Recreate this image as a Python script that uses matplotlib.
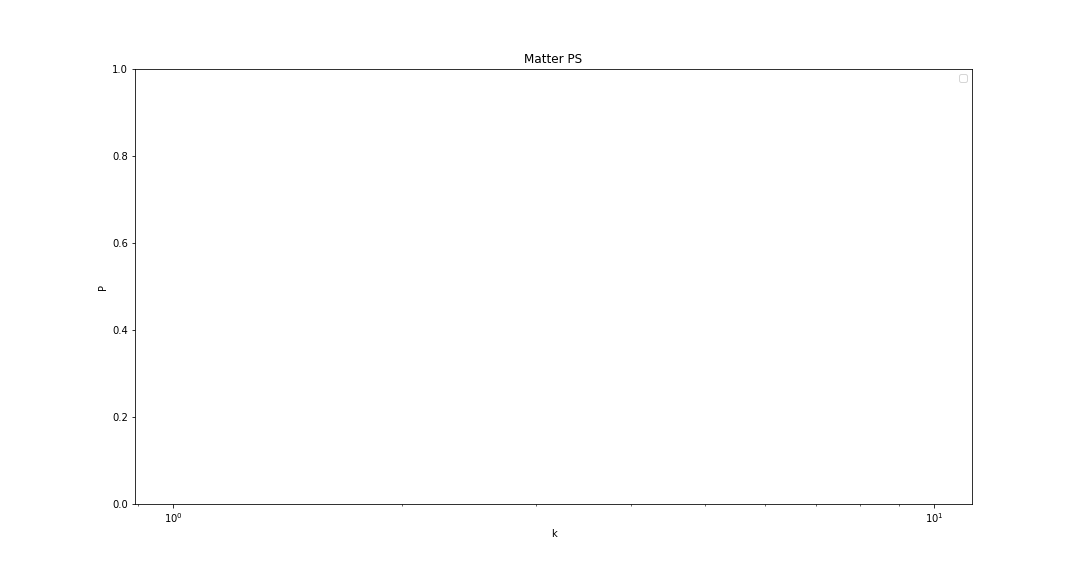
import matplotlib
matplotlib.use("Agg")
import matplotlib.pyplot as plt

# axis range of the (empty) power spectrum plot
k_range = [10 ** -0.05, 10 ** 1.05]
p_range = [0.0, 1.0]

fig, ax = plt.subplots(figsize=(15, 8), dpi=72)
fig.subplots_adjust(left=0.125, right=0.9, top=0.88, bottom=0.125)

ax.set_xscale("log")
ax.set_xlim(k_range)
ax.set_ylim(p_range)
ax.set_title("Matter PS")
ax.set_xlabel("k")
ax.set_ylabel("P")
ax.legend(handles=[], loc="upper right")

fig.savefig("out.png", dpi=72)
